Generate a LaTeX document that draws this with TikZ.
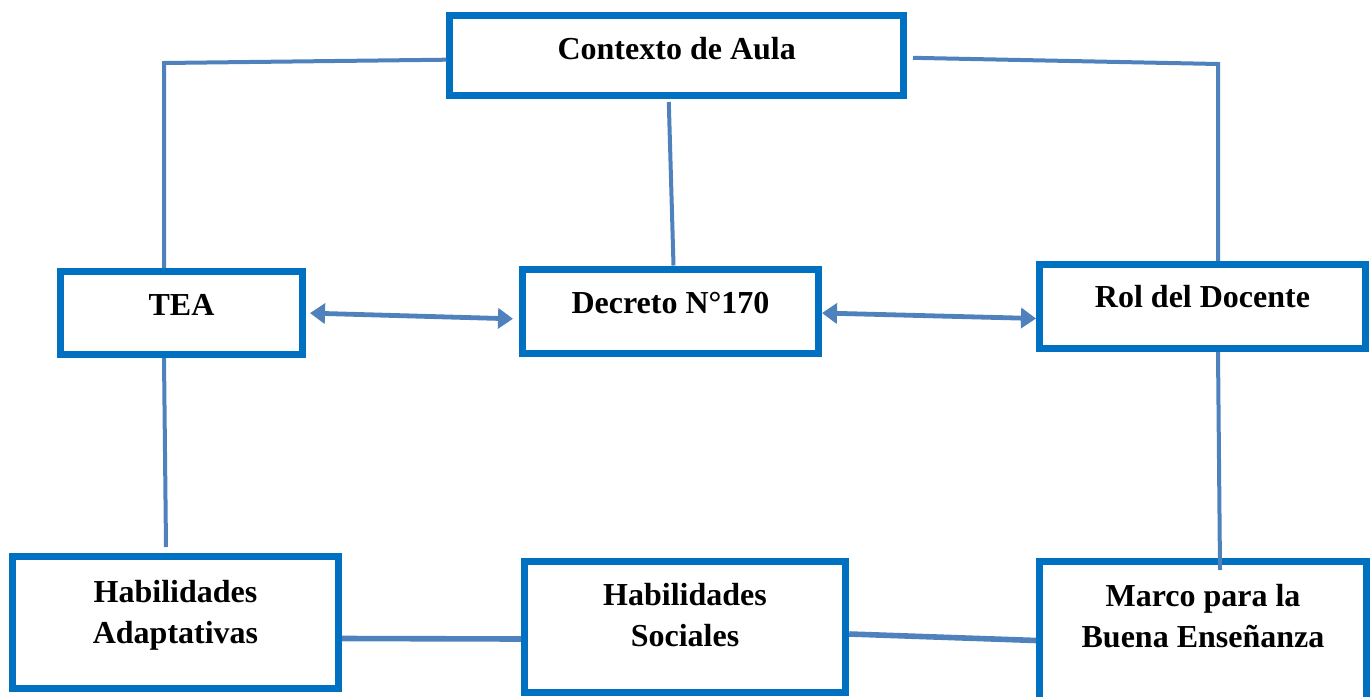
\documentclass[tikz,border=0pt]{standalone}
\usepackage{fontspec}
\setmainfont{Liberation Serif}
\usetikzlibrary{positioning,arrows.meta,calc}
\definecolor{boxblue}{HTML}{0070C0}
\definecolor{linkblue}{HTML}{4F81BD}
\begin{document}
\begin{tikzpicture}[x=0.5pt,y=-0.5pt,
    box/.style={draw=boxblue,line width=3.5pt,fill=white,minimum width=#1},
    txt/.style={font=\fontsize{16}{20.5}\selectfont\bfseries,align=center},
    link/.style={draw=linkblue,line width=2pt},
    both/.style={link,line width=2.4pt,{Triangle[length=7.5pt,width=10pt]}-{Triangle[length=7.5pt,width=10pt]}}]
    \useasboundingbox (0,0) rectangle (1370,696);
    \clip (0,0) rectangle (1370,696);
    \node[box=226.8pt,minimum height=39.8pt,label={[txt,yshift=3.5pt]center:Contexto de Aula}] (ctx) at (676.7,55.7) {};
    \node[box=121pt,minimum height=41.5pt,label={[txt,yshift=4.25pt]center:TEA}] (tea) at (181.5,313) {};
    \node[box=148pt,minimum height=42pt,label={[txt,yshift=4pt]center:Decreto N°170}] (dec) at (670.5,311) {};
    \node[box=163pt,minimum height=42pt,label={[txt,yshift=5pt]center:Rol del Docente}] (rol) at (1202.5,306.5) {};
    \node[box=163pt,minimum height=66pt,label={[txt,yshift=3.5pt]center:Habilidades\\Adaptativas}] (hab) at (175.5,622.5) {};
    \node[box=160.7pt,minimum height=65.5pt,label={[txt,yshift=6pt]center:Habilidades\\Sociales}] (soc) at (685,627) {};
    \node[box=163.5pt,minimum height=70pt,label={[txt,yshift=7.75pt]center:Marco para la\\Buena Enseñanza}] (marco) at (1203,631.5) {};
    \coordinate (c1) at (164,63);
    \coordinate (c2) at (1218,64);
    \coordinate (c3) at (166,547);
    \coordinate (c4) at (1220,570);
    \draw[link] ([yshift=-2pt]ctx.west) -- (c1) -- (c1 |- tea.north);
    \draw[link,shorten <=1.5pt] ([xshift=-4pt]ctx.south) -- ([xshift=1.5pt]dec.north);
    \draw[link,shorten <=3pt] ([yshift=-1pt]ctx.east) -- (c2) -- (c2 |- rol.north);
    \draw[link] (c1 |- tea.south) -- (c3);
    \draw[link] (c2 |- rol.south) -- (c4);
    \draw[both,shorten <=2pt,shorten >=3pt] (tea.east) -- ([yshift=-4pt]dec.west);
    \draw[both] ([yshift=-1pt]dec.east) -- ([yshift=-6pt]rol.west);
    \draw[link,line width=2.8pt] ([yshift=-8pt]hab.east) -- ([yshift=-6pt]soc.west);
    \draw[link,line width=2.8pt] ([yshift=-3.5pt]soc.east) -- ([yshift=-4.5pt]marco.west);
\end{tikzpicture}
\end{document}
